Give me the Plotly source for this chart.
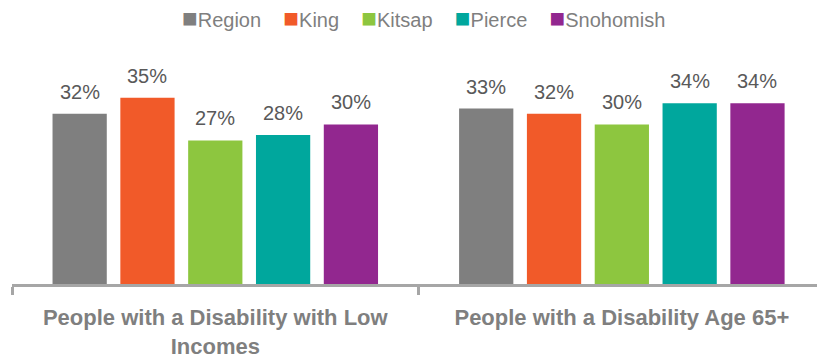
import plotly.graph_objects as go

categories = ["People with a Disability with Low<br>Incomes", "People with a Disability Age 65+"]
series_names = ["Region", "King", "Kitsap", "Pierce", "Snohomish"]
series_values = [
    [32, 33],  # Region
    [35, 32],  # King
    [27, 30],  # Kitsap
    [28, 34],  # Pierce
    [30, 34],  # Snohomish
]
series_colors = ["#7F7F7F", "#F15A29", "#8DC63F", "#00A79D", "#92278F"]

BAR_GAP = 0.166
GROUP_GAP = 0.2
TEXT_FONT = "Liberation Sans, Arial, sans-serif"

fig = go.Figure()
for name, vals, color in zip(series_names, series_values, series_colors):
    fig.add_trace(go.Bar(
        name=name,
        x=categories,
        y=vals,
        marker=dict(color=color, line=dict(width=0)),
        showlegend=False,
    ))

# value labels above each bar, placed at the bar's slot within its group
n = len(series_names)
slot = (1 - BAR_GAP) / n
for i, vals in enumerate(series_values):
    for j, v in enumerate(vals):
        fig.add_annotation(
            x=j + (i - (n - 1) / 2) * slot,
            y=v,
            xref="x", yref="y",
            text=f"{v}%",
            showarrow=False,
            yanchor="bottom",
            yshift=9,
            font=dict(family=TEXT_FONT, size=20, color="#595959"),
        )

# compact key row: coloured square followed by the series name
key_items = [
    f'<span style="color:{c};font-size:26px">■</span>{name}'
    for name, c in zip(series_names, series_colors)
]
fig.add_annotation(
    x=0.5106, y=1.137, xref="paper", yref="paper",
    xanchor="center", yanchor="middle",
    text="&nbsp;&nbsp;&nbsp;&nbsp;".join(key_items),
    showarrow=False,
    font=dict(family=TEXT_FONT, size=20, color="#7F7F7F"),
)

fig.update_layout(
    width=817, height=360,
    margin=dict(l=12, r=0, t=50, b=76),
    paper_bgcolor="white", plot_bgcolor="white",
    barmode="group", bargap=BAR_GAP, bargroupgap=GROUP_GAP,
    showlegend=False,
    xaxis=dict(
        type="category",
        range=[-0.5, 1.48],
        showline=True, linewidth=3, linecolor="#A6A6A6",
        ticks="outside", tickson="boundaries", ticklen=8, tickwidth=3, tickcolor="#A6A6A6",
        ticklabelstandoff=12,
        showgrid=False, zeroline=False,
        tickfont=dict(family=TEXT_FONT, size=22, color="#7F7F7F", weight="bold"),
    ),
    yaxis=dict(
        range=[0, 44],
        visible=False, showgrid=False, zeroline=False,
    ),
)

fig.write_html("out.html")
